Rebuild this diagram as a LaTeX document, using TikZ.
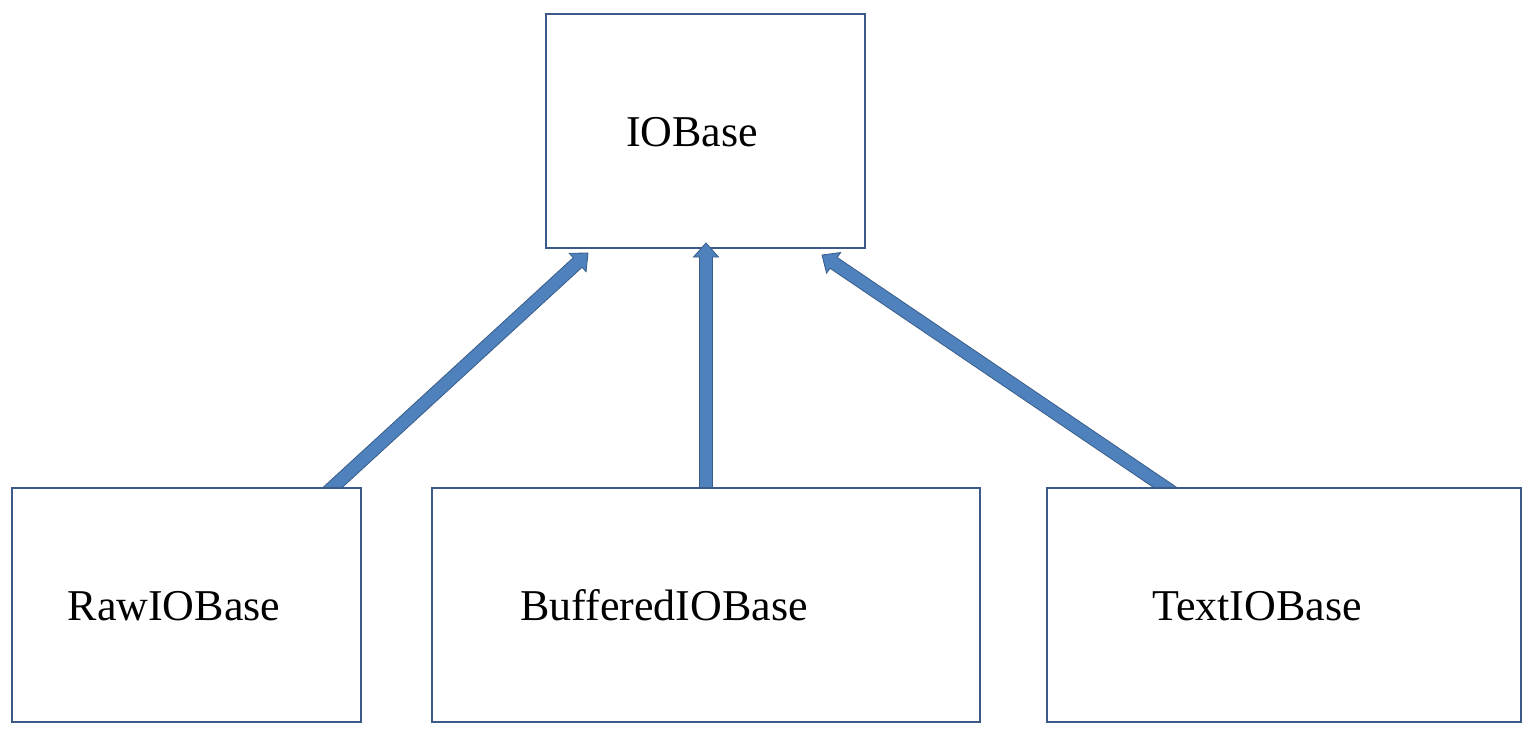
\documentclass[tikz,border=0pt]{standalone}
\usepackage{fontspec}
\setmainfont{Liberation Serif}
\usetikzlibrary{calc}
\definecolor{arrfill}{HTML}{4F81BD}
\definecolor{arrline}{HTML}{385D8A}
\definecolor{boxline}{HTML}{3B5A8A}
\tikzset{
  box/.style={draw=boxline, line width=1.3pt, fill=white, inner sep=0pt},
  lbl/.style={font=\fontsize{44}{52}\selectfont, inner sep=0pt, anchor=base},
  blockarr/.style={fill=arrfill, draw=arrline, line width=0.8pt, line join=miter}
}
\newcommand\blockarrow[2]{%
  \path[blockarr] let \p1=(#1), \p2=(#2), \n1={atan2(\y2-\y1,\x2-\x1)}, \n2={veclen(\x2-\x1,\y2-\y1)} in
    ($(\p1)+(\n1+90:6.5pt)$) --
    ($(\p1)+(\n1:{\n2-14pt})+(\n1+90:6.5pt)$) --
    ($(\p1)+(\n1:{\n2-14pt})+(\n1+90:12.5pt)$) --
    (\p2) --
    ($(\p1)+(\n1:{\n2-14pt})+(\n1-90:12.5pt)$) --
    ($(\p1)+(\n1:{\n2-14pt})+(\n1-90:6.5pt)$) --
    ($(\p1)+(\n1-90:6.5pt)$) -- cycle;%
}
\begin{document}
\begin{tikzpicture}[x=1pt,y=-1pt]
\useasboundingbox (0,0) rectangle (1534,734);
\node[box, minimum width=319pt, minimum height=234pt] (iob) at (705.5,131) {};
\coordinate (e1) at (588,253);
\coordinate (e2) at (706,243);
\coordinate (e3) at (822,255);
\coordinate (s1) at ($(e1)!1.06!(332,488)$);
\coordinate (s2) at (706,496);
\coordinate (s3) at ($(e3)!1.06!(1166,488)$);
\blockarrow{s1}{e1}
\blockarrow{s2}{e2}
\blockarrow{s3}{e3}
\node[box, minimum width=349pt, minimum height=234pt] (raw) at (186.5,605) {};
\node[box, minimum width=548pt, minimum height=234pt] (buf) at (706,605) {};
\node[box, minimum width=474pt, minimum height=234pt] (txt) at (1284,605) {};
\node[lbl] (tiob) at (692,146) {IOBase};
\node[lbl] (traw) at (174,620) {RawIOBase};
\node[lbl] (tbuf) at (664,620) {BufferedIOBase};
\node[lbl] (ttxt) at (1257,620) {TextIOBase};
\end{tikzpicture}
\end{document}
